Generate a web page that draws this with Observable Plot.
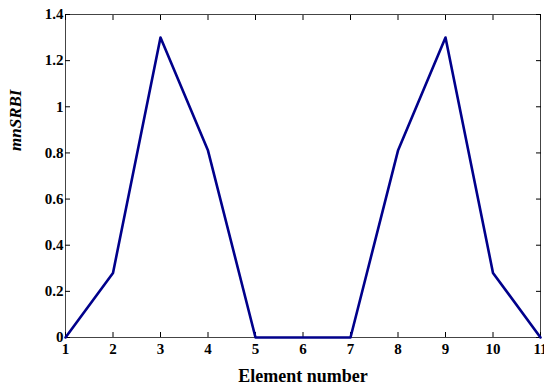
<!DOCTYPE html>
<html><head><meta charset="utf-8">
<script src="https://cdn.jsdelivr.net/npm/d3@7"></script>
<script src="https://cdn.jsdelivr.net/npm/@observablehq/plot@0.6"></script>
<style>body{margin:0;background:#fff}</style>
</head><body><div id="chart"></div>
<script>
const elements = [1,2,3,4,5,6,7,8,9,10,11];
const mnSRBI = [0,0.28,1.3,0.81,0,0,0,0.81,1.3,0.28,0];
const xTicks = [1,2,3,4,5,6,7,8,9,10,11];
const yTicks = [0,0.2,0.4,0.6,0.8,1,1.2,1.4];
const xLabel = "Element number";
const yLabel = "mnSRBI";
const data = elements.map((e,i)=>({e, v: mnSRBI[i]}));
const font = "'Liberation Serif', 'Times New Roman', serif";
const chart = Plot.plot({
  width: 544, height: 388,
  marginLeft: 65, marginRight: 4, marginTop: 14, marginBottom: 51,
  style: {fontFamily: font, fontSize: "15px", fontWeight: "bold", color: "#000", background: "#fff", fontVariant: "normal"},
  x: {domain: [1, 11]},
  y: {domain: [0, 1.4]},
  marks: [
    Plot.frame({stroke: "#444", strokeWidth: 1}),
    Plot.axisX({ticks: xTicks, tickSize: -5, tickPadding: 11, tickFormat: d=>String(d), label: null, fontSize: 15, fontFamily: font, fontWeight: "bold"}),
    Plot.axisX({anchor: "top", ticks: xTicks, tickSize: -5, tickFormat: () => "", label: null}),
    Plot.axisY({ticks: yTicks, tickSize: -5, tickPadding: 7, tickFormat: d=>String(d), label: null, fontSize: 15, fontFamily: font, fontWeight: "bold"}),
    Plot.axisY({anchor: "right", ticks: yTicks, tickSize: -5, tickFormat: () => "", label: null}),
    Plot.line(data, {x: "e", y: "v", stroke: "#00008B", strokeWidth: 2.6}),
    Plot.text([xLabel], {frameAnchor: "bottom", dy: 44, text: d=>d, fontSize: 18, fontWeight: "bold", fontFamily: font}),
    Plot.text([yLabel], {frameAnchor: "left", dx: -50, dy: -25, rotate: -90, text: d=>d, fontSize: 17, fontStyle: "italic", fontWeight: "bold", fontFamily: font})
  ]
});
document.getElementById("chart").appendChild(chart);
</script></body></html>
